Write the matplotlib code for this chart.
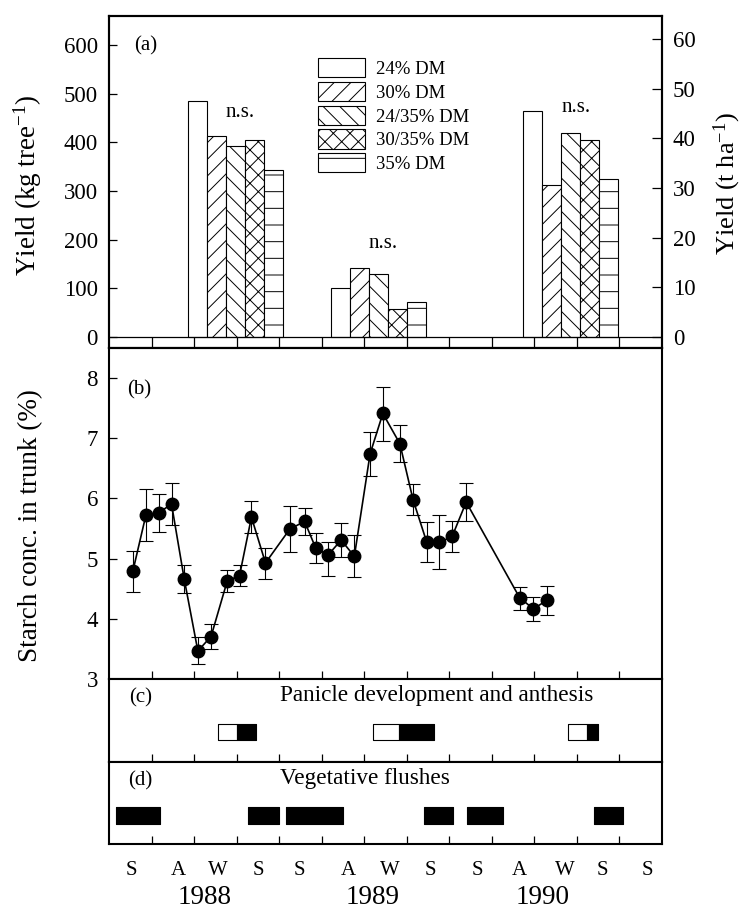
import numpy as np
import matplotlib
matplotlib.use("Agg")
import matplotlib.pyplot as plt
from matplotlib.patches import Patch

plt.rcParams['font.family'] = ['Liberation Serif', 'DejaVu Serif']
plt.rcParams['mathtext.fontset'] = 'custom'
plt.rcParams['mathtext.rm'] = 'Liberation Serif'
plt.rcParams['mathtext.it'] = 'Liberation Serif:italic'
plt.rcParams['hatch.linewidth'] = 0.7

# (a) yield per treatment, three harvests
treatments = ['24% DM', '30% DM', '24/35% DM', '30/35% DM', '35% DM']
hatches = ['', '//', '\\\\', 'xx', '-']
harvest_pos = [2.07, 5.44, 9.96]          # centre of first bar in each harvest
yield_1988 = [486, 414, 393, 405, 343]
yield_1989 = [100, 142, 129, 58, 72]
yield_1990 = [464, 312, 419, 405, 325]
ns_pos = [3.08, 6.45, 10.98]
ns_height = [462, 193, 471]

# (b) trunk starch
sample_x = [0.56, 0.87, 1.17, 1.47, 1.77, 2.09, 2.40, 2.78, 3.07, 3.35, 3.68, 4.25, 4.60, 4.86,
            5.15, 5.46, 5.77, 6.14, 6.44, 6.84, 7.15, 7.47, 7.77, 8.07, 8.40, 9.66, 9.98, 10.30]
starch = [4.79, 5.73, 5.76, 5.91, 4.66, 3.47, 3.71, 4.63, 4.72, 5.69, 4.93, 5.49, 5.62, 5.18,
          5.06, 5.31, 5.04, 6.74, 7.41, 6.91, 5.98, 5.28, 5.27, 5.37, 5.94, 4.35, 4.17, 4.31]
starch_hi = [5.13, 6.16, 6.07, 6.26, 4.89, 3.70, 3.91, 4.82, 4.89, 5.96, 5.18, 5.88, 5.84, 5.43,
             5.27, 5.59, 5.40, 7.11, 7.85, 7.22, 6.24, 5.61, 5.72, 5.63, 6.26, 4.53, 4.36, 4.55]
starch_lo = [4.45, 5.30, 5.45, 5.56, 4.43, 3.26, 3.51, 4.45, 4.54, 5.43, 4.67, 5.11, 5.39, 4.93,
             4.71, 5.03, 4.69, 6.37, 6.95, 6.61, 5.73, 4.95, 4.83, 5.11, 5.62, 4.15, 3.97, 4.06]

# (c) panicle development (white) then anthesis (black)
panicle_start = [2.57, 6.22, 10.79]
anthesis_start = [3.00, 6.82, 11.24]
anthesis_end = [3.46, 7.65, 11.51]

# (d) vegetative flushes
flush_start = [0.165, 3.26, 4.16, 7.41, 8.41, 11.41]
flush_end = [1.21, 4.00, 5.51, 8.08, 9.27, 12.09]

# x axis: one unit per season
season_labels = ['S', 'A', 'W', 'S', 'S', 'A', 'W', 'S', 'S', 'A', 'W', 'S', 'S']
season_pos = [0.52, 1.62, 2.56, 3.51, 4.48, 5.63, 6.60, 7.55, 8.67, 9.66, 10.71, 11.60, 12.66]
years = ['1988', '1989', '1990']
year_pos = [2.25, 6.19, 10.2]

SPINE_W = 1.5
BAR_W = 0.447
TICK_FS = 16.5


def style_axes(ax, tick_len=6):
    for s in ax.spines.values():
        s.set_linewidth(SPINE_W)
    ax.set_xlim(0, 13)
    ax.set_xticks(np.arange(1, 13))
    ax.tick_params(axis='x', direction='in', length=tick_len, width=0.9,
                   labelbottom=False, top=False)
    ax.tick_params(axis='y', direction='in', length=6, width=0.9, labelsize=TICK_FS,
                   pad=8, right=False)


def plot_yield(ax):
    style_axes(ax, tick_len=8)
    groups = [yield_1988, yield_1989, yield_1990]
    for g, vals in zip(harvest_pos, groups):
        for i, v in enumerate(vals):
            ax.bar(g + i * BAR_W, v, width=BAR_W, color='white', edgecolor='black',
                   linewidth=0.8, hatch=hatches[i], zorder=2)
    for x, h in zip(ns_pos, ns_height):
        ax.text(x, h, 'n.s.', ha='center', va='center', fontsize=15)
    ax.axhline(0, color='black', linewidth=0.9, zorder=3)
    ax.set_ylim(-22.6, 660.8)
    ax.set_yticks(np.arange(0, 601, 100))
    ax.set_ylabel('Yield (kg tree$^{-1}$)', fontsize=19.5)
    ax.yaxis.set_label_coords(-0.117, 0.49)
    ax.text(0.0666, 0.908, '(a)', transform=ax.transAxes, ha='center', va='center', fontsize=15)

    handles = [Patch(facecolor='white', edgecolor='black', linewidth=0.8, hatch=h)
               for h in hatches]
    ax.legend(handles, treatments, loc='upper left', bbox_to_anchor=(0.378, 0.872),
              frameon=False, fontsize=13.5, handlelength=2.5, handleheight=1.2,
              labelspacing=0.2, handletextpad=0.6, borderpad=0, borderaxespad=0)

    ax2 = ax.twinx()
    ax2.set_ylim(-2.21, 64.75)
    ax2.set_yticks(np.arange(0, 61, 10))
    ax2.tick_params(axis='y', direction='in', length=7, width=0.9, labelsize=TICK_FS, pad=8)
    ax2.set_ylabel('Yield (t ha$^{-1}$)', fontsize=19)
    ax2.yaxis.set_label_coords(1.09, 0.494)
    for s in ax2.spines.values():
        s.set_linewidth(SPINE_W)


def plot_starch(ax):
    style_axes(ax)
    y = np.array(starch)
    yerr = [y - np.array(starch_lo), np.array(starch_hi) - y]
    ax.errorbar(sample_x, starch, yerr=yerr, fmt='o-', color='black', markersize=9,
                linewidth=1.2, elinewidth=0.8, capsize=5, capthick=0.8)
    ax.set_ylim(3, 8.5)
    ax.set_yticks(np.arange(3, 9, 1))
    ax.set_ylabel('Starch conc. in trunk (%)', fontsize=19.5)
    ax.yaxis.set_label_coords(-0.12, 0.463)
    ax.text(0.054, 0.874, '(b)', transform=ax.transAxes, ha='center', va='center', fontsize=15)


def plot_phenology(ax, label, title):
    style_axes(ax)
    ax.set_ylim(0, 1)
    ax.set_yticks([])
    ax.text(0.057, 0.77, label, transform=ax.transAxes, ha='center', va='center', fontsize=15)
    ax.text(4.02, 0.8, title, ha='left', va='center', fontsize=16.7)


def main():
    fig = plt.figure(figsize=(7.44, 9.09), dpi=100)
    left, width = 0.1465, 0.743
    ax_a = fig.add_axes([left, 0.6174, width, 0.3653])
    ax_b = fig.add_axes([left, 0.2527, width, 0.3647])
    ax_c = fig.add_axes([left, 0.1620, width, 0.0907])
    ax_d = fig.add_axes([left, 0.0715, width, 0.0905])

    plot_yield(ax_a)
    plot_starch(ax_b)

    plot_phenology(ax_c, '(c)', 'Panicle development and anthesis')
    for s, m, e in zip(panicle_start, anthesis_start, anthesis_end):
        ax_c.broken_barh([(s, m - s)], (0.26, 0.194), facecolors='white',
                         edgecolor='black', linewidth=0.8)
        ax_c.broken_barh([(m, e - m)], (0.26, 0.194), facecolors='black',
                         edgecolor='black', linewidth=0.8)

    plot_phenology(ax_d, '(d)', 'Vegetative flushes')
    for s, e in zip(flush_start, flush_end):
        ax_d.broken_barh([(s, e - s)], (0.24, 0.213), facecolors='black',
                         edgecolor='black', linewidth=0.8)

    xt = ax_d.get_xaxis_transform()
    for x, lab in zip(season_pos, season_labels):
        ax_d.text(x, -0.316, lab, transform=xt, ha='center', va='center', fontsize=15)
    for x, lab in zip(year_pos, years):
        ax_d.text(x, -0.65, lab, transform=xt, ha='center', va='center', fontsize=19.5)

    fig.savefig('out.png', dpi=100)


if __name__ == "__main__":
    main()
